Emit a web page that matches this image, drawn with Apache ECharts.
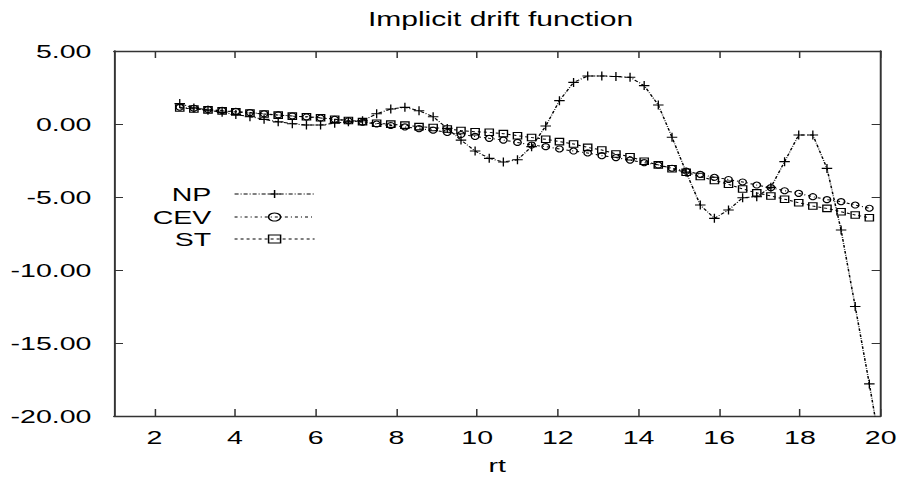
<!DOCTYPE html>
<html>
<head>
<meta charset="utf-8">
<title>Implicit drift function</title>
<script src="https://cdn.jsdelivr.net/npm/echarts@6/dist/echarts.min.js"></script>
<style>
  html, body { margin: 0; padding: 0; background: #fff; overflow: hidden; }
  /* the original plot is stretched sideways, so draw it 600px wide and stretch it to 901 */
  #chart { width: 600px; height: 481px; transform: scaleX(1.50167); transform-origin: 0 0; }
</style>
</head>
<body>
<div id="chart"></div>
<script>
// rt values (x)
const rt = [
  2.63, 2.98, 3.33, 3.68, 4.02, 4.37, 4.72, 5.07, 5.42, 5.77,
  6.12, 6.47, 6.81, 7.16, 7.51, 7.86, 8.21, 8.56, 8.91, 9.26,
  9.60, 9.95, 10.30, 10.65, 11.00, 11.35, 11.70, 12.04, 12.39, 12.74,
  13.09, 13.44, 13.79, 14.14, 14.49, 14.83, 15.18, 15.53, 15.88, 16.23,
  16.58, 16.93, 17.28, 17.62, 17.97, 18.32, 18.67, 19.02, 19.37, 19.72,
  20.07
]

const np = [
  1.4, 1.1, 0.95, 0.8, 0.65, 0.5, 0.32, 0.15, 0.02, -0.07,
  -0.07, 0.05, 0.15, 0.22, 0.7, 1.03, 1.14, 0.91, 0.5, -0.3,
  -1.1, -1.85, -2.35, -2.6, -2.45, -1.55, -0.14, 1.6, 2.85, 3.29,
  3.29, 3.25, 3.2, 2.63, 1.3, -0.91, -3.3, -5.55, -6.46, -5.89,
  -5.05, -4.98, -4.34, -2.58, -0.75, -0.75, -3.04, -7.26, -12.5, -17.8,
  -23.4
]

const cev = [
  1.15, 1.08, 1.0, 0.93, 0.86, 0.78, 0.7, 0.62, 0.55, 0.48,
  0.41, 0.32, 0.22, 0.12, 0.0, -0.1, -0.2, -0.32, -0.42, -0.58,
  -0.72, -0.85, -0.98, -1.1, -1.26, -1.44, -1.55, -1.71, -1.85, -1.98,
  -2.17, -2.3, -2.47, -2.65, -2.81, -3.03, -3.22, -3.45, -3.65, -3.8,
  -3.97, -4.18, -4.36, -4.57, -4.75, -4.98, -5.18, -5.32, -5.55, -5.77
]

const st = [
  1.1, 1.03, 0.97, 0.9, 0.83, 0.75, 0.68, 0.61, 0.54, 0.5,
  0.43, 0.33, 0.24, 0.16, 0.05, -0.01, -0.08, -0.18, -0.24, -0.34,
  -0.45, -0.53, -0.57, -0.66, -0.8, -0.93, -1.05, -1.21, -1.37, -1.6,
  -1.78, -2.05, -2.24, -2.55, -2.8, -3.07, -3.31, -3.6, -3.87, -4.13,
  -4.45, -4.72, -4.93, -5.15, -5.39, -5.62, -5.78, -6.01, -6.23, -6.42
]

const xTicks = [2, 4, 6, 8, 10, 12, 14, 16, 18, 20]
const seriesNames = ['NP', 'CEV', 'ST']

const FONT = '"Liberation Sans", Arial, Helvetica, sans-serif'
const INK = '#000'
const AXIS = '#333'

const chart = echarts.init(document.getElementById('chart'), null, { renderer: 'svg' })

function makeSeries (name, values, symbol, symbolSize, dash) {
  return {
    name: name,
    type: 'line',
    data: values.map((v, i) => [rt[i], v]),
    symbol: symbol,
    symbolSize: symbolSize,
    showSymbol: true,
    clip: true,
    lineStyle: { color: INK, width: 1, type: dash },
    itemStyle: { color: 'transparent', borderColor: INK, borderWidth: 1 },
    emphasis: { disabled: true }
  }
}

function xAxisOf (position, showLabels) {
  return {
    type: 'value',
    position: position,
    min: 1,
    max: 20,
    splitLine: { show: false },
    axisLine: { onZero: false, lineStyle: { color: AXIS, width: 1.3 } },
    axisTick: { inside: true, length: 7, customValues: xTicks, lineStyle: { color: AXIS } },
    axisLabel: {
      show: showLabels,
      customValues: xTicks,
      margin: 12,
      color: INK,
      fontFamily: FONT,
      fontSize: 19
    }
  }
}

function yAxisOf (position, showLabels) {
  return {
    type: 'value',
    position: position,
    min: -20,
    max: 5,
    interval: 5,
    splitLine: { show: false },
    axisLine: { onZero: false, lineStyle: { color: AXIS, width: 1.3 } },
    axisTick: { inside: true, length: 6, lineStyle: { color: AXIS } },
    axisLabel: {
      show: showLabels,
      margin: 15,
      color: INK,
      fontFamily: FONT,
      fontSize: 19,
      formatter: (v) => v.toFixed(2)
    }
  }
}

// gnuplot style key: label right-aligned, line sample to the right
const legendRows = [194, 217, 239]
const legends = seriesNames.map((name, i) => ({
  data: [name],
  orient: 'vertical',
  align: 'right',
  right: 385,
  top: legendRows[i] - 14.5,
  itemWidth: 53.3,
  itemHeight: 10,
  selectedMode: false,
  textStyle: { fontFamily: FONT, fontSize: 19, color: INK, padding: [0, 10.5, 0, 0] },
  itemStyle: { borderWidth: 1 },
  lineStyle: { width: 1 }
}))

const xTop = xAxisOf('top', false)
const xBottom = xAxisOf('bottom', true)
xBottom.name = 'rt'
xBottom.nameLocation = 'middle'
xBottom.nameGap = 40
xBottom.nameTextStyle = { color: INK, fontFamily: FONT, fontSize: 19 }

const option = {
  animation: false,
  backgroundColor: '#fff',
  title: {
    text: 'Implicit drift function',
    left: 240,
    top: 4,
    textStyle: { fontFamily: FONT, fontSize: 20, fontWeight: 'normal', color: INK }
  },
  legend: legends,
  grid: { left: 75.9, right: 11.3, top: 51, bottom: 65 },
  xAxis: [xBottom, xTop],
  yAxis: [yAxisOf('left', true), yAxisOf('right', false)],
  series: [
    makeSeries('NP', np, 'path://M0,5L10,5M5,0L5,10', [7, 9], [2.7, 1.3, 0.7, 1.3]),
    makeSeries('CEV', cev, 'circle', [5, 6], [2, 2, 0.7, 2]),
    makeSeries('ST', st, 'rect', [5.5, 6.5], [2, 2])
  ]
}

chart.setOption(option)
</script>
</body>
</html>
